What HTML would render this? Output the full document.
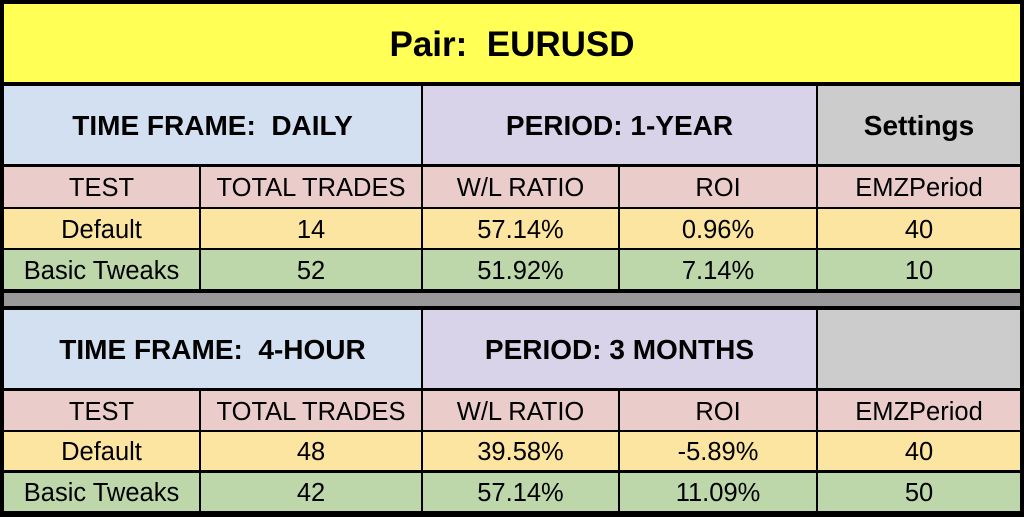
<!DOCTYPE html>
<html><head><style>
body{margin:0;width:1024px;height:517px;background:#000;position:relative;overflow:hidden;font-family:"Liberation Sans",Arial,sans-serif;}
.c{position:absolute;display:flex;align-items:center;justify-content:center;color:#000;font-size:25.5px;box-sizing:border-box;padding-top:3px;}
.b{font-weight:bold;font-size:28px;padding-top:2px;}
.y{background:#ffff55}.bl{background:#d3e0f1}.lv{background:#d9d3e9}.g{background:#cccccc}
.p{background:#eacccb}.ly{background:#fce5a1}.gr{background:#bdd7ab}.sep{background:#999}
</style></head><body>
<div class="c y" style="left:4px;top:4px;width:1016px;height:78px;font-weight:bold;font-size:35px">Pair:&nbsp; EURUSD</div>

<div class="c bl b" style="left:4px;top:86px;width:417px;height:78px">TIME FRAME:&nbsp; DAILY</div>
<div class="c lv b" style="left:423px;top:86px;width:393px;height:78px">PERIOD: 1-YEAR</div>
<div class="c g b" style="left:818px;top:86px;width:202px;height:78px">Settings</div>

<div class="c p" style="left:4px;top:167px;width:195px;height:40px">TEST</div>
<div class="c p" style="left:201px;top:167px;width:220px;height:40px">TOTAL TRADES</div>
<div class="c p" style="left:423px;top:167px;width:195px;height:40px">W/L RATIO</div>
<div class="c p" style="left:620px;top:167px;width:196px;height:40px">ROI</div>
<div class="c p" style="left:818px;top:167px;width:202px;height:40px">EMZPeriod</div>

<div class="c ly" style="left:4px;top:209px;width:195px;height:39px">Default</div>
<div class="c ly" style="left:201px;top:209px;width:220px;height:39px">14</div>
<div class="c ly" style="left:423px;top:209px;width:195px;height:39px">57.14%</div>
<div class="c ly" style="left:620px;top:209px;width:196px;height:39px">0.96%</div>
<div class="c ly" style="left:818px;top:209px;width:202px;height:39px">40</div>

<div class="c gr" style="left:4px;top:250px;width:195px;height:39px">Basic Tweaks</div>
<div class="c gr" style="left:201px;top:250px;width:220px;height:39px">52</div>
<div class="c gr" style="left:423px;top:250px;width:195px;height:39px">51.92%</div>
<div class="c gr" style="left:620px;top:250px;width:196px;height:39px">7.14%</div>
<div class="c gr" style="left:818px;top:250px;width:202px;height:39px">10</div>

<div class="c sep" style="left:4px;top:293px;width:1016px;height:13px"></div>

<div class="c bl b" style="left:4px;top:310px;width:417px;height:78px">TIME FRAME:&nbsp; 4-HOUR</div>
<div class="c lv b" style="left:423px;top:310px;width:393px;height:78px">PERIOD: 3 MONTHS</div>
<div class="c g b" style="left:818px;top:310px;width:202px;height:78px"></div>

<div class="c p" style="left:4px;top:391px;width:195px;height:39px">TEST</div>
<div class="c p" style="left:201px;top:391px;width:220px;height:39px">TOTAL TRADES</div>
<div class="c p" style="left:423px;top:391px;width:195px;height:39px">W/L RATIO</div>
<div class="c p" style="left:620px;top:391px;width:196px;height:39px">ROI</div>
<div class="c p" style="left:818px;top:391px;width:202px;height:39px">EMZPeriod</div>

<div class="c ly" style="left:4px;top:432px;width:195px;height:38px">Default</div>
<div class="c ly" style="left:201px;top:432px;width:220px;height:38px">48</div>
<div class="c ly" style="left:423px;top:432px;width:195px;height:38px">39.58%</div>
<div class="c ly" style="left:620px;top:432px;width:196px;height:38px">-5.89%</div>
<div class="c ly" style="left:818px;top:432px;width:202px;height:38px">40</div>

<div class="c gr" style="left:4px;top:473px;width:195px;height:38px">Basic Tweaks</div>
<div class="c gr" style="left:201px;top:473px;width:220px;height:38px">42</div>
<div class="c gr" style="left:423px;top:473px;width:195px;height:38px">57.14%</div>
<div class="c gr" style="left:620px;top:473px;width:196px;height:38px">11.09%</div>
<div class="c gr" style="left:818px;top:473px;width:202px;height:38px">50</div>
</body></html>
